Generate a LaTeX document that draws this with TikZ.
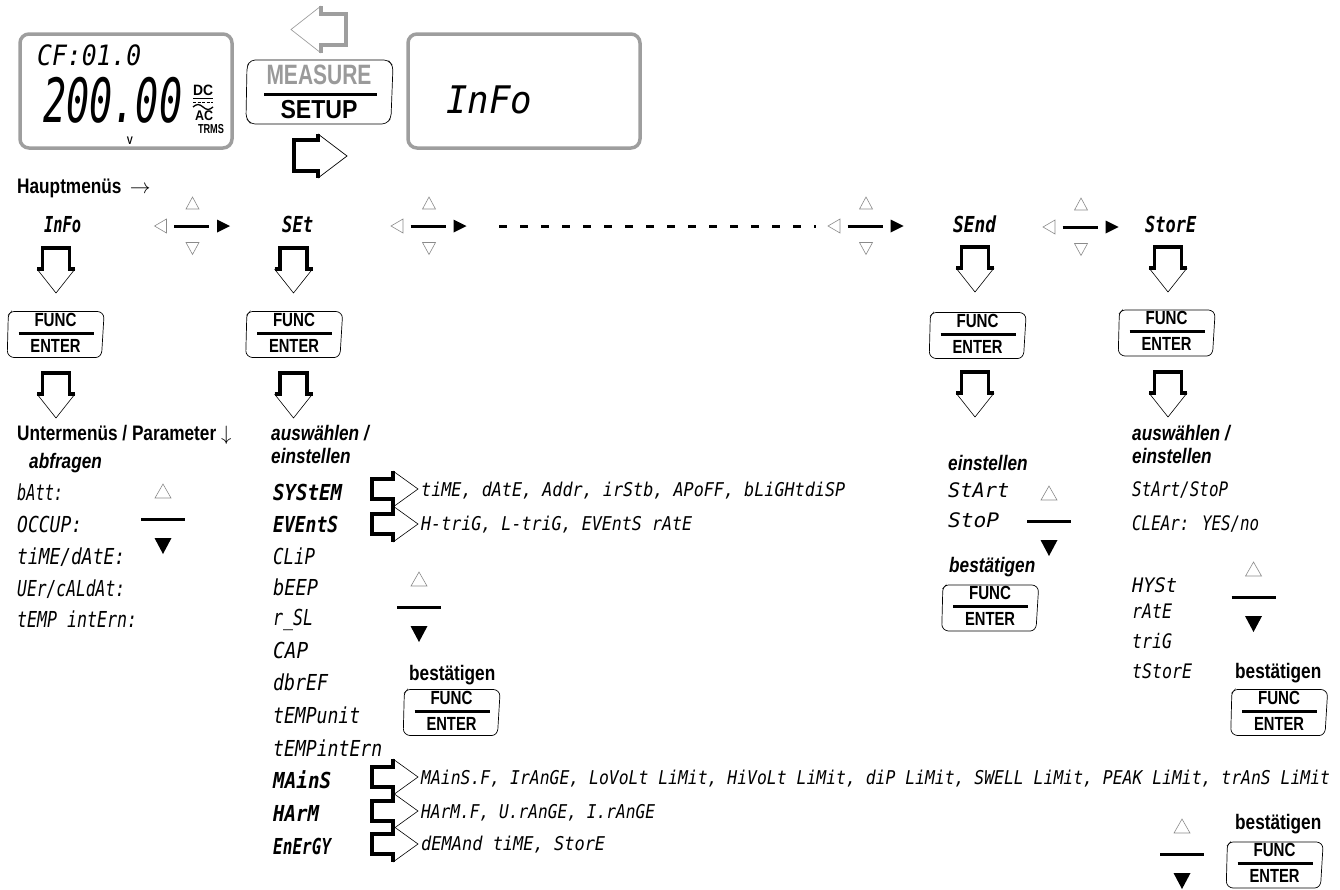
\documentclass[tikz,border=0pt]{standalone}
\usepackage{fontspec}
\usepackage{graphicx}
\setmainfont{Liberation Sans}
\newfontfamily\condfont[FakeStretch=0.82]{Liberation Sans}
\newfontfamily\segfont{DejaVu Sans Mono}
\definecolor{lcdgray}{HTML}{9E9E9E}
\definecolor{trigray}{HTML}{8A8A8A}
\definecolor{measgray}{HTML}{9A9A9A}
\newcommand\fitw[2]{\resizebox{#1pt}{\height}{#2}}
\tikzset{
  lcdbox/.style={draw=lcdgray, line width=3.5pt, rounded corners=9pt},
  keyline/.style={draw=black, line width=0.7pt, rounded corners=2.5pt},
  keytxt/.style={anchor=base, inner sep=0pt, font=\condfont\bfseries\fontsize{19}{20}\selectfont},
  segitem/.style={anchor=base west, inner sep=0pt, font=\segfont\fontsize{22}{24}\selectfont\itshape},
  segbold/.style={anchor=base west, inner sep=0pt, font=\segfont\fontsize{22}{24}\selectfont\bfseries\itshape},
  segline/.style={anchor=base west, inner sep=0pt, font=\segfont\fontsize{19}{22}\selectfont\itshape},
  segmid/.style={anchor=base west, inner sep=0pt, font=\segfont\fontsize{20}{22}\selectfont\itshape},
  lbl/.style={anchor=base west, inner sep=0pt, font=\condfont\bfseries\fontsize{21}{24}\selectfont},
  lblit/.style={anchor=base west, inner sep=0pt, font=\condfont\bfseries\itshape\fontsize{21}{24}\selectfont},
  heavy/.style={line width=3.2pt},
  hair/.style={line width=0.6pt},
  outlinetri/.style={draw=trigray, line width=0.6pt},
  downpress/.pic={
    \draw[heavy] (-19,21) -- (-13.5,21) -- (-13.5,0) -- (13.5,0) -- (13.5,21) -- (19,21);
    \draw[hair] (-19,21) -- (0,45) -- (19,21);
  },
  rightpress/.pic={
    \draw[heavy] (21,-18) -- (21,-10) -- (0,-10) -- (0,10) -- (21,10) -- (21,18);
    \draw[hair] (21,-18) -- (46,0) -- (21,18);
  },
  navgroup/.pic={
    \draw[outlinetri] (-6.5,-17) -- (6.5,-17) -- (0,-29) -- cycle;
    \draw[outlinetri] (-6.5,16.5) -- (6.5,16.5) -- (0,28.5) -- cycle;
    \draw[outlinetri] (-26,-7) -- (-26,7) -- (-38,0) -- cycle;
    \draw[line width=3pt] (-18.5,0) -- (16.5,0);
    \fill (24.5,-6.5) -- (24.5,6.5) -- (37.5,0) -- cycle;
  },
  updown/.pic={
    \draw[outlinetri] (-8,-21) -- (8,-21) -- (0,-35) -- cycle;
    \draw[line width=3pt] (-22,0) -- (22,0);
    \fill (-8.5,19) -- (8.5,19) -- (0,35) -- cycle;
  },
  funckey/.pic={
    \draw[keyline] (-44,-23) -- (44.5,-23) -- (48.5,-19) -- (46.2,19) -- (42.8,23) -- (-44,23) -- (-48.2,19) -- (-47.2,-19.5) -- cycle;
    \node[keytxt] (-f) at (0,-8.5) {\fitw{42}{FUNC}};
    \draw[line width=3pt] (-37,-1.5) -- (38,-1.5);
    \node[keytxt] (-e) at (0,17.5) {\fitw{50}{ENTER}};
  },
}
\begin{document}
\begin{tikzpicture}[x=1pt,y=-1pt]
\useasboundingbox (0,0) rectangle (1340,889);

% ---------- LCD 1 ----------
\draw[lcdbox] (20,34) rectangle (232,148);
\node[anchor=base west, inner sep=0pt, font=\segfont\fontsize{28}{30}\selectfont\itshape] (cf) at (37,65) {\fitw{104}{CF:01.0}};
\node[anchor=base west, inner sep=0pt, font=\segfont\fontsize{61}{64}\selectfont\itshape] (val) at (43,122) {\fitw{139}{200.00}};
\node[anchor=base, inner sep=0pt, font=\condfont\bfseries\fontsize{15}{16}\selectfont] (dc) at (203,95) {\fitw{20}{DC}};
\coordinate (dcl) at (193,98.5); \coordinate (dcr) at (213,98.5);
\draw[line width=1.3pt] (dcl) -- (dcr);
\coordinate (dsl) at (193,102.5); \coordinate (dsr) at (213,102.5);
\draw[line width=1.3pt, dash pattern=on 3pt off 1.5pt] (dsl) -- (dsr);
\draw[line width=1.3pt] (193,107) sin (198,104.5) cos (203,107) sin (208,109.5) cos (213,107);
\node[anchor=base, inner sep=0pt, font=\condfont\bfseries\fontsize{14}{15}\selectfont] (ac) at (204,120) {\fitw{18}{AC}};
\node[anchor=base, inner sep=0pt, font=\condfont\bfseries\fontsize{13}{14}\selectfont] (trms) at (211,133.5) {\fitw{26}{TRMS}};
\node[anchor=base, inner sep=0pt, font=\condfont\bfseries\fontsize{11}{12}\selectfont] (volt) at (130,144) {V};

% ---------- MEASURE / SETUP key ----------
\draw[keyline, rounded corners=4pt] (251,60) -- (388,60) -- (393,66) -- (391,118) -- (386,124) -- (251,124) -- (246,118) -- (247,66) -- cycle;
\node[anchor=base, inner sep=0pt, text=measgray, font=\condfont\bfseries\fontsize{28}{30}\selectfont] (meas) at (319,84) {\fitw{105}{MEASURE}};
\coordinate (ml) at (264,94); \coordinate (mr) at (377,94);
\draw[line width=3pt] (ml) -- (mr);
\node[anchor=base, inner sep=0pt, font=\condfont\bfseries\fontsize{26}{28}\selectfont] (setup) at (319,118) {\fitw{77}{SETUP}};

% gray left arrow (back to MEASURE)
\draw[draw=lcdgray, line width=3.2pt] (321,6) -- (321,14) -- (346,14) -- (346,45) -- (321,45) -- (321,53);
\draw[draw=lcdgray, line width=0.7pt] (321,6) -- (291,29.5) -- (321,53);
% black right arrow (to SETUP)
\draw[line width=3.4pt] (318,134) -- (318,140) -- (294,140) -- (294,171) -- (318,171) -- (318,178);
\draw[line width=0.7pt] (318,134) -- (347,156) -- (318,178);

% ---------- Info LCD ----------
\draw[lcdbox] (408,34) rectangle (640,148);
\node[anchor=base west, inner sep=0pt, font=\segfont\fontsize{38}{40}\selectfont\itshape] (infobig) at (446,113) {\fitw{86}{InFo}};

% ---------- main menus ----------
\node[lbl] (haupt) at (17,193) {Hauptmenüs\, $\rightarrow$};
\node[segbold] (m-info) at (44,232) {\fitw{37}{InFo}};
\node[segbold] (m-set) at (282,232) {\fitw{31}{SEt}};
\node[segbold] (m-send) at (953,232) {\fitw{43}{SEnd}};
\node[segbold] (m-store) at (1145,232) {\fitw{51}{StorE}};
\pic at (192.5,226) {navgroup};
\pic at (429,226) {navgroup};
\pic at (866,226) {navgroup};
\pic at (1081,227) {navgroup};
\coordinate (dashA) at (499,226); \coordinate (dashB) at (816,226);
\draw[line width=3pt, dash pattern=on 7.5pt off 13.5pt] (dashA) -- (dashB);

% press arrows and FUNC keys
\pic at (56,248) {downpress};
\pic at (56,373) {downpress};
\pic at (293.5,248) {downpress};
\pic at (293.5,373) {downpress};
\pic at (975,247) {downpress};
\pic at (975,372) {downpress};
\pic at (1168,247) {downpress};
\pic at (1168,372) {downpress};
\pic (k-i) at (55.5,334.5) {funckey};
\pic (k-s) at (294,334.5) {funckey};
\pic (k-d) at (977.5,335.5) {funckey};
\pic (k-t) at (1166.5,333) {funckey};

% ---------- Info column ----------
\node[lbl] (unter) at (17,440) {Untermenüs / Parameter $\downarrow$};
\node[lblit] (abfr) at (29,468) {abfragen};
\node[segitem] (i1) at (17,500) {\fitw{46}{bAtt:}};
\node[segitem] (i2) at (17,532) {\fitw{65}{OCCUP:}};
\node[segitem] (i3) at (17,564) {\fitw{108}{tiME/dAtE:}};
\node[segitem] (i4) at (17,596) {\fitw{108}{UEr/cALdAt:}};
\node[segitem] (i5) at (17,627) {\fitw{120}{tEMP intErn:}};
\pic at (163,519) {updown};

% ---------- SEt column ----------
\node[lblit] (s-ausw) at (271,440) {auswählen /};
\node[lblit] (s-einst) at (271,463) {einstellen};
\node[segbold] (s1) at (273,500) {\fitw{69}{SYStEM}};
\node[segbold] (s2) at (273,532) {\fitw{65}{EVEntS}};
\node[segitem] (s3) at (273,564) {\fitw{42}{CLiP}};
\node[segitem] (s4) at (273,595) {\fitw{45}{bEEP}};
\node[segitem] (s5) at (273,625) {\fitw{40}{r\_SL}};
\node[segitem] (s6) at (273,658) {\fitw{35}{CAP}};
\node[segitem] (s7) at (273,690) {\fitw{55}{dbrEF}};
\node[segitem] (s8) at (273,723) {\fitw{87}{tEMPunit}};
\node[segitem] (s9) at (273,756) {\fitw{109}{tEMPintErn}};
\node[segbold] (s10) at (273,788) {\fitw{58}{MAinS}};
\node[segbold] (s11) at (273,821) {\fitw{46}{HArM}};
\node[segbold] (s12) at (273,854) {\fitw{58}{EnErGY}};
\pic at (372,489) {rightpress};
\pic at (372,524) {rightpress};
\pic at (372,777) {rightpress};
\pic at (372,811) {rightpress};
\pic at (372,844) {rightpress};
\node[segline] (l1) at (421,496) {\fitw{424}{tiME, dAtE, Addr, irStb, APoFF, bLiGHtdiSP}};
\node[segline] (l2) at (421,530) {\fitw{271}{H-triG, L-triG, EVEntS rAtE}};
\node[segline] (l3) at (421,784) {\fitw{909}{MAinS.F, IrAnGE, LoVoLt LiMit, HiVoLt LiMit, diP LiMit, SWELL LiMit, PEAK LiMit, trAnS LiMit}};
\node[segline] (l4) at (421,818) {\fitw{234}{HArM.F, U.rAnGE, I.rAnGE}};
\node[segline] (l5) at (421,850) {\fitw{184}{dEMAnd tiME, StorE}};
\pic at (419,607) {updown};
\node[lbl] (s-best) at (409,680) {bestätigen};
\pic (k-s2) at (451.5,712.5) {funckey};

% ---------- SEnd column ----------
\node[lblit] (d-einst) at (948,470) {einstellen};
\node[segmid] (d1) at (948,497) {\fitw{61}{StArt}};
\node[segmid] (d2) at (948,527) {\fitw{51}{StoP}};
\pic at (1049,521) {updown};
\node[lblit] (d-best) at (949,572) {bestätigen};
\pic (k-d2) at (990,608) {funckey};

% ---------- StorE column ----------
\node[lblit] (t-ausw) at (1132,440) {auswählen /};
\node[lblit] (t-einst) at (1132,463) {einstellen};
\node[segmid] (t1) at (1132,496) {\fitw{96}{StArt/StoP}};
\node[segmid] (t2) at (1132,530) {\fitw{127}{CLEAr: YES/no}};
\node[segmid] (t3) at (1132,592) {\fitw{45}{HYSt}};
\node[segmid] (t4) at (1132,618) {\fitw{40}{rAtE}};
\node[segmid] (t5) at (1132,648) {\fitw{40}{triG}};
\node[segmid] (t6) at (1132,678) {\fitw{60}{tStorE}};
\pic at (1253.5,597) {updown};
\node[lbl] (t-best) at (1235,678) {bestätigen};
\pic (k-t2) at (1279,712.5) {funckey};
\pic at (1182,854) {updown};
\node[lbl] (b-best) at (1235,829) {bestätigen};
\pic (k-b) at (1274.5,865) {funckey};
\end{tikzpicture}
\end{document}
